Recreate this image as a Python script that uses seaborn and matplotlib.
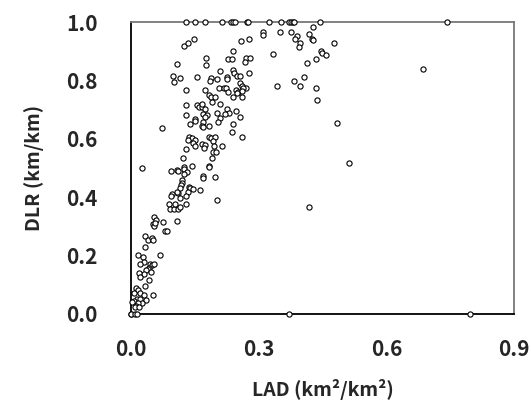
import matplotlib
matplotlib.use("Agg")
import matplotlib.pyplot as plt
import seaborn as sns
import pandas as pd

# LAD (km2/km2) vs DLR (km/km)
lad = [
    # points sitting on DLR = 1.0
    0.129, 0.150, 0.174, 0.213, 0.234, 0.240, 0.244, 0.272, 0.276, 0.325,
    0.353, 0.371, 0.375, 0.380, 0.384, 0.445, 0.743,
    # points sitting on DLR = 0
    0.0, 0.0, 0.009, 0.014, 0.371, 0.797,
    # main cloud
    0.310, 0.310, 0.350, 0.377, 0.428, 0.391, 0.386, 0.419, 0.425, 0.428,
    0.398, 0.395, 0.447, 0.448, 0.458, 0.476, 0.334, 0.434, 0.413, 0.125,
    0.134, 0.147, 0.259, 0.277, 0.240, 0.177, 0.176, 0.228, 0.237, 0.270,
    0.280, 0.267, 0.107, 0.210, 0.240, 0.243, 0.248, 0.256, 0.277, 0.098,
    0.101, 0.114, 0.155, 0.189, 0.186, 0.201, 0.225, 0.225, 0.257, 0.262,
    0.270, 0.264, 0.343, 0.382, 0.407, 0.397, 0.434, 0.437, 0.129, 0.174,
    0.207, 0.219, 0.223, 0.228, 0.246, 0.252, 0.262, 0.183, 0.187, 0.197,
    0.191, 0.240, 0.262, 0.248, 0.129, 0.155, 0.159, 0.166, 0.173, 0.167,
    0.208, 0.225, 0.231, 0.220, 0.201, 0.246, 0.256, 0.170, 0.178, 0.173,
    0.129, 0.150, 0.150, 0.209, 0.204, 0.138, 0.169, 0.167, 0.170, 0.183,
    0.240, 0.074, 0.237, 0.262, 0.137, 0.143, 0.135, 0.150, 0.183, 0.189,
    0.198, 0.193, 0.146, 0.151, 0.167, 0.174, 0.171, 0.194, 0.213, 0.129,
    0.192, 0.200, 0.122, 0.191, 0.025, 0.094, 0.107, 0.111, 0.125, 0.125,
    0.132, 0.125, 0.143, 0.183, 0.183, 0.170, 0.170, 0.197, 0.119, 0.121,
    0.118, 0.115, 0.110, 0.107, 0.096, 0.094, 0.136, 0.139, 0.146, 0.134,
    0.129, 0.116, 0.162, 0.201, 0.089, 0.092, 0.100, 0.104, 0.111, 0.116,
    0.129, 0.107, 0.076, 0.055, 0.058, 0.052, 0.055, 0.057, 0.079, 0.085,
    0.034, 0.040, 0.049, 0.052, 0.034, 0.067, 0.016, 0.028, 0.031, 0.021,
    0.045, 0.049, 0.053, 0.042, 0.039, 0.035, 0.047, 0.031, 0.019, 0.020,
    0.043, 0.034, 0.012, 0.016, 0.008, 0.022, 0.031, 0.052, 0.013, 0.020,
    0.008, 0.036, 0.027, 0.017, 0.012, 0.009, 0.019, 0.003, 0.419, 0.483,
    0.513, 0.685,
]
dlr = [
    1.0, 1.0, 1.0, 1.0, 1.0, 1.0, 1.0, 1.0, 1.0, 1.0,
    1.0, 1.0, 1.0, 1.0, 1.0, 1.0, 1.0,
    0.0, 0.0, 0.0, 0.0, 0.0, 0.0,
    0.967, 0.955, 0.967, 0.967, 0.984, 0.953, 0.944, 0.958, 0.944, 0.939,
    0.927, 0.914, 0.901, 0.896, 0.887, 0.927, 0.891, 0.874, 0.861, 0.918,
    0.927, 0.944, 0.936, 0.941, 0.901, 0.878, 0.852, 0.873, 0.873, 0.878,
    0.878, 0.864, 0.856, 0.833, 0.835, 0.825, 0.816, 0.816, 0.825, 0.816,
    0.795, 0.807, 0.812, 0.807, 0.799, 0.804, 0.812, 0.804, 0.790, 0.781,
    0.776, 0.773, 0.781, 0.799, 0.812, 0.781, 0.773, 0.733, 0.768, 0.768,
    0.773, 0.773, 0.773, 0.760, 0.768, 0.760, 0.764, 0.750, 0.742, 0.742,
    0.725, 0.742, 0.742, 0.756, 0.716, 0.716, 0.708, 0.708, 0.702, 0.720,
    0.720, 0.702, 0.689, 0.685, 0.689, 0.694, 0.676, 0.684, 0.682, 0.676,
    0.681, 0.668, 0.662, 0.671, 0.659, 0.650, 0.659, 0.645, 0.640, 0.645,
    0.650, 0.637, 0.623, 0.606, 0.606, 0.602, 0.597, 0.596, 0.606, 0.602,
    0.606, 0.594, 0.585, 0.575, 0.583, 0.578, 0.570, 0.575, 0.575, 0.564,
    0.556, 0.556, 0.535, 0.535, 0.499, 0.490, 0.494, 0.490, 0.503, 0.498,
    0.485, 0.481, 0.508, 0.508, 0.503, 0.472, 0.467, 0.468, 0.459, 0.450,
    0.441, 0.432, 0.414, 0.417, 0.412, 0.405, 0.436, 0.432, 0.427, 0.418,
    0.405, 0.398, 0.424, 0.389, 0.377, 0.359, 0.359, 0.377, 0.359, 0.368,
    0.377, 0.319, 0.314, 0.331, 0.323, 0.309, 0.301, 0.312, 0.283, 0.283,
    0.266, 0.252, 0.260, 0.252, 0.231, 0.203, 0.203, 0.194, 0.177, 0.172,
    0.172, 0.168, 0.170, 0.159, 0.153, 0.151, 0.143, 0.138, 0.141, 0.128,
    0.115, 0.097, 0.089, 0.082, 0.071, 0.071, 0.066, 0.066, 0.052, 0.051,
    0.046, 0.048, 0.039, 0.037, 0.028, 0.023, 0.025, 0.040, 0.366, 0.653,
    0.516, 0.838,
]

df = pd.DataFrame({"LAD": lad, "DLR": dlr})

sns.set_style("white")
plt.rcParams["font.family"] = ["Noto Sans CJK JP", "DejaVu Sans"]
plt.rcParams["font.weight"] = "bold"

fig = plt.figure(figsize=(5.31, 4.03), dpi=100)
ax = fig.add_axes([0.2467, 0.221, 0.7213, 0.724])

sns.scatterplot(data=df, x="LAD", y="DLR", ax=ax, s=14, marker="o",
                facecolor="white", edgecolor="black", linewidth=0.8,
                clip_on=False, zorder=3)

ax.set_xlim(0, 0.9)
ax.set_ylim(0, 1.0)
ax.set_xticks([0.0, 0.3, 0.6, 0.9])
ax.set_yticks([0.0, 0.2, 0.4, 0.6, 0.8, 1.0])
ax.set_xticklabels(["0.0", "0.3", "0.6", "0.9"])
ax.set_yticklabels(["0.0", "0.2", "0.4", "0.6", "0.8", "1.0"])

for side in ["left", "bottom"]:
    ax.spines[side].set_color("black")
    ax.spines[side].set_linewidth(1.3)
for side in ["top", "right"]:
    ax.spines[side].set_color("#777777")
    ax.spines[side].set_linewidth(1.3)

ax.tick_params(axis="y", direction="out", length=7, width=1.3, color="#777777",
               pad=17, labelsize=15)
ax.tick_params(axis="x", direction="out", length=6, width=1.3, color="#555555",
               pad=12, labelsize=15)
for lbl in ax.get_xticklabels() + ax.get_yticklabels():
    lbl.set_fontweight("bold")

ax.set_xlabel("LAD (km²/km²)", fontsize=14, fontweight="bold", labelpad=14)
ax.set_ylabel("DLR (km/km)", fontsize=14, fontweight="bold", labelpad=16)

fig.savefig("out.png", dpi=100)
